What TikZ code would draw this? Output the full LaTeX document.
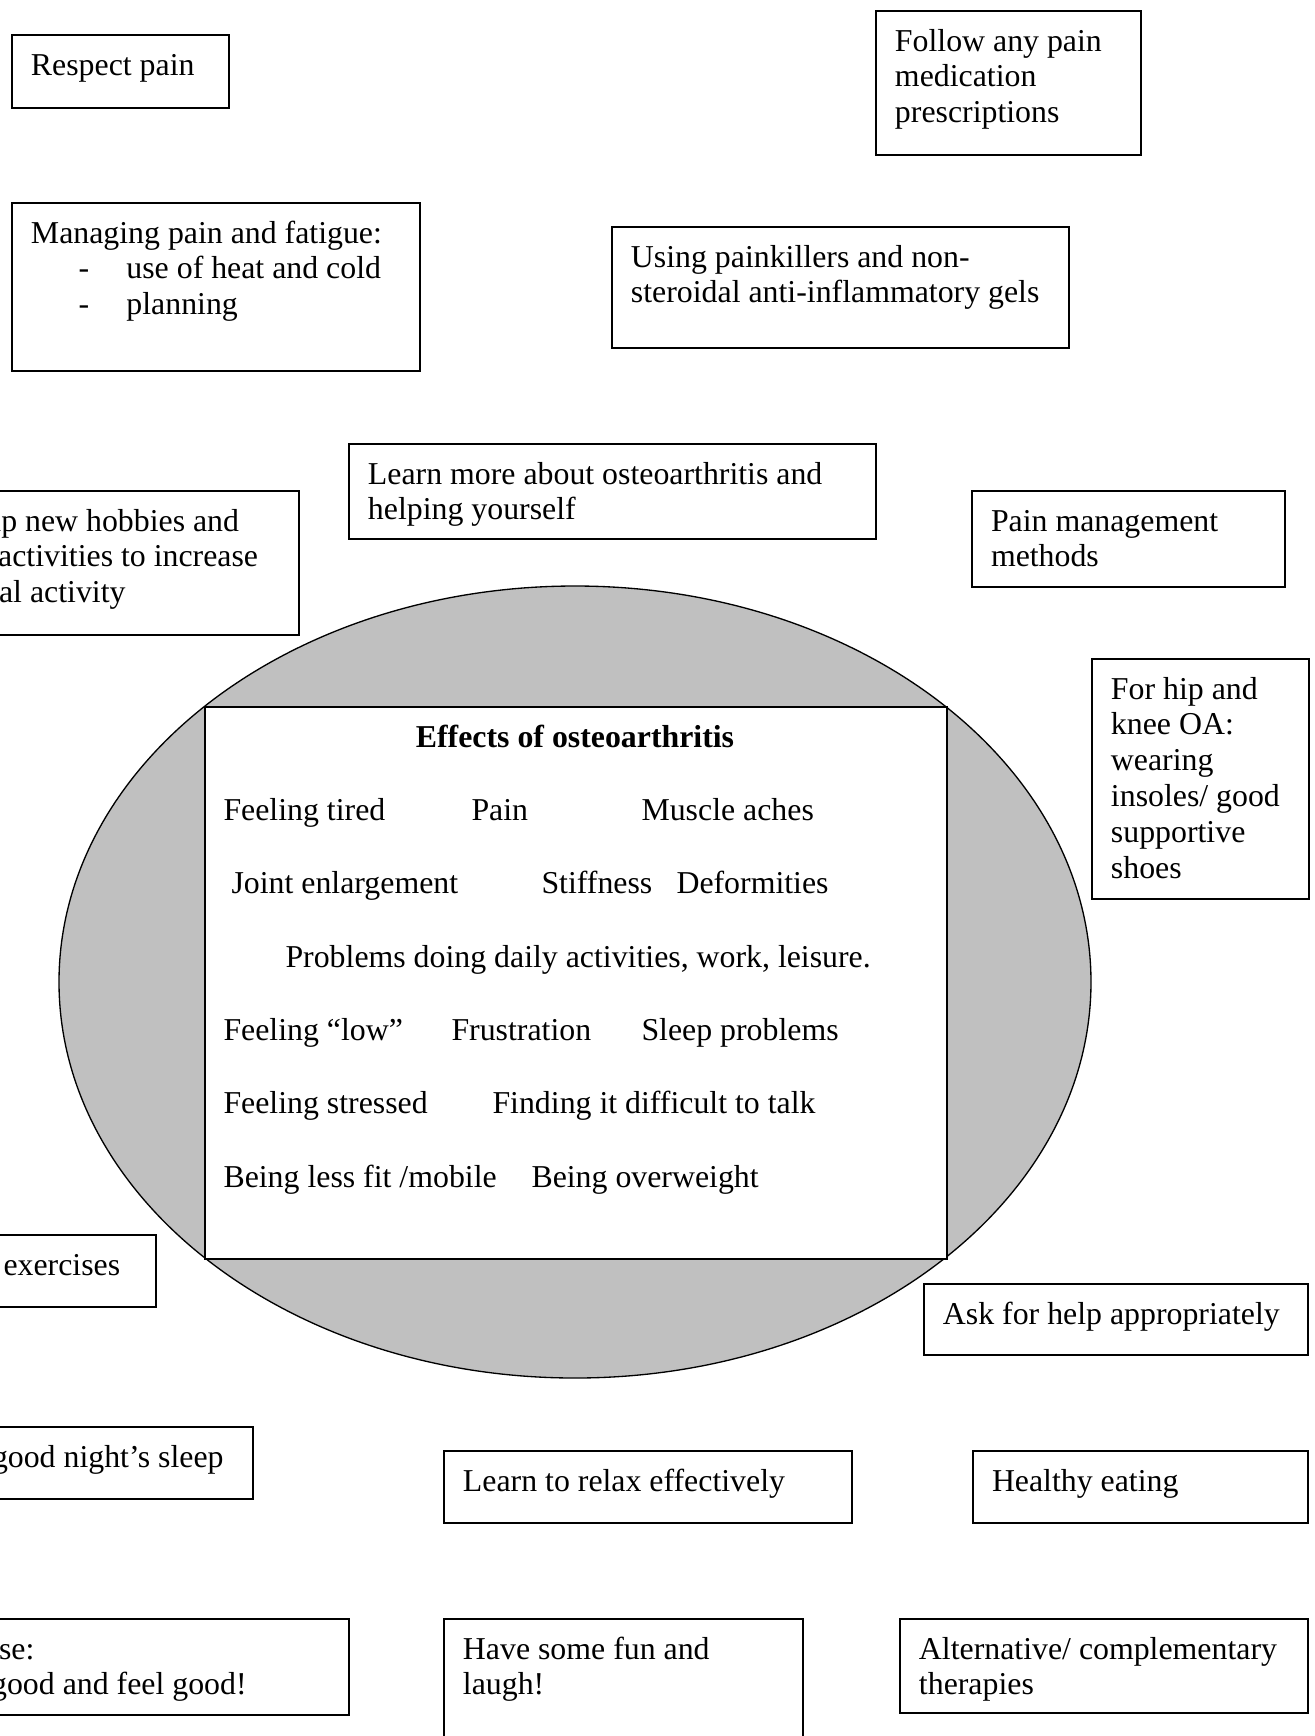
\documentclass[tikz,border=0pt]{standalone}
\usepackage{fontspec}
\setmainfont{Liberation Serif}
\definecolor{silver}{RGB}{192,192,192}
\newlength{\pxu}
\setlength{\pxu}{0.377pt}
\tikzset{
  note/.style 2 args={draw, fill=white, line width=0.75pt, anchor=north west, align=flush left,
    inner xsep=19\pxu, inner ysep=0pt, text width=#1\pxu, text height=40\pxu, text depth=#2\pxu,
    font=\fontsize{12}{13.5}\selectfont,
    execute at begin node={\spaceskip=0pt\xspaceskip=0pt\hyphenpenalty=10000\relax}},
  effect/.style={anchor=base west, inner sep=0pt, font=\fontsize{12}{13.5}\selectfont},
}
\newcommand{\dashitem}{\hspace*{18pt}\makebox[18pt][l]{-}}
\begin{document}
\begin{tikzpicture}[x=0.377pt,y=-0.377pt]
\useasboundingbox (0,0) rectangle (1315,1736);
\clip (0,0) rectangle (1315,1736);
% the effects in the middle
\draw[fill=silver, line width=0.5pt] (575,982) ellipse [x radius=516, y radius=396];
\node[draw, fill=white, line width=0.75pt, inner sep=0pt, anchor=north west,
  minimum width=742\pxu, minimum height=552\pxu] (effects) at (204,706) {};
\node[effect, anchor=base] (title) at (575,747) {\textbf{Effects of osteoarthritis}};
\foreach \x/\y/\t [count=\i] in {223/820/Feeling tired, 471/820/Pain, 641/820/Muscle aches,
  231/893/Joint enlargement, 541/893/Stiffness, 676/893/Deformities,
  {285/967/{Problems doing daily activities, work, leisure.}},
  223/1040/Feeling “low”, 451/1040/Frustration, 641/1040/Sleep problems,
  223/1113/Feeling stressed, 492/1113/Finding it difficult to talk,
  223/1187/{Being less fit /mobile}, 531/1187/Being overweight}
  \node[effect] (e\i) at (\x,\y) {\t};
% boxes round it, left side
\node[note={179}{33}] (pain) at (11,34) {Respect pain};
\node[note={370}{128}] (fatigue) at (11,202) {Managing pain and fatigue:\\
  \dashitem use of heat and cold\\ \dashitem planning};
\node[note={364}{104}] (hobbies) at (-104,490) {Take up new hobbies and\\
  social activities to increase\\ physical activity};
\node[note={221}{32}] (exercises) at (-104,1234) {Doing exercises};
\node[note={318}{32}] (sleep) at (-104,1426) {Get a good night’s sleep};
\node[note={414}{56}] (active) at (-104,1618) {Exercise:\\ Look good and feel good!};
% top and right side
\node[note={227}{104}] (meds) at (875,10) {Follow any pain\\ medication\\ prescriptions};
\node[note={419}{81}] (gels) at (611,226) {Using painkillers and non-\\
  steroidal anti-inflammatory gels};
\node[note={489}{55}] (learn) at (348,443) {Learn more about osteoarthritis and\\ helping yourself};
\node[note={275}{56}] (methods) at (971,490) {Pain management\\ methods};
\node[note={179}{200}] (shoes) at (1091,658) {For hip and\\ knee OA:\\ wearing\\
  insoles/ good\\ supportive\\ shoes};
\node[note={346}{31}] (help) at (923,1283) {Ask for help appropriately};
% bottom
\node[note={370}{32}] (relax) at (443,1450) {Learn to relax effectively};
\node[note={297}{32}] (eating) at (972,1450) {Healthy eating};
\node[note={321}{110}] (fun) at (443,1618) {Have some fun and\\ laugh!};
\node[note={370}{54}] (therapies) at (899,1618) {Alternative/ complementary\\ therapies};
\end{tikzpicture}
\end{document}
